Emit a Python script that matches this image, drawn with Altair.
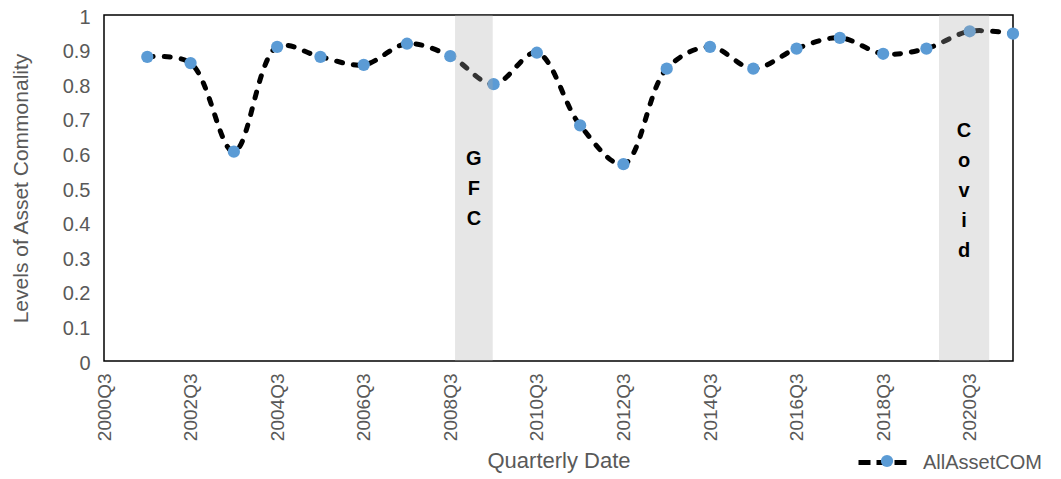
import altair as alt
import pandas as pd

# ---- data ----
quarters = ["2001Q3", "2002Q3", "2003Q3", "2004Q3", "2005Q3", "2006Q3", "2007Q3",
            "2008Q3", "2009Q3", "2010Q3", "2011Q3", "2012Q3", "2013Q3", "2014Q3",
            "2015Q3", "2016Q3", "2017Q3", "2018Q3", "2019Q3", "2020Q3", "2021Q3"]
values = [0.879, 0.861, 0.605, 0.908, 0.879, 0.856, 0.917,
          0.881, 0.800, 0.891, 0.681, 0.569, 0.845, 0.908,
          0.845, 0.903, 0.934, 0.888, 0.903, 0.953, 0.946]
tick_quarters = ["2000Q3", "2002Q3", "2004Q3", "2006Q3", "2008Q3", "2010Q3",
                 "2012Q3", "2014Q3", "2016Q3", "2018Q3", "2020Q3"]
y_ticks = [0, 0.1, 0.2, 0.3, 0.4, 0.5, 0.6, 0.7, 0.8, 0.9, 1]
event_names = ["G\nF\nC", "C\no\nv\ni\nd"]
event_start = [2008.61, 2019.79]
event_end = [2009.48, 2020.95]
event_label_top = [0.612, 0.694]
series_name = "AllAssetCOM"


def q_to_num(q):
    return int(q[:4]) + (int(q[-1]) - 1) / 4.0


df = pd.DataFrame({"t": [q_to_num(q) for q in quarters], "v": values,
                   "series": series_name, "series2": series_name})
ev = pd.DataFrame({"name": event_names, "t": event_start, "t_end": event_end,
                   "v": event_label_top})
ev["t_mid"] = (ev["t"] + ev["t_end"]) / 2

tick_vals = [q_to_num(q) for q in tick_quarters]
FONT = "Liberation Sans"
GREY = "#595959"

xscale = alt.Scale(domain=[q_to_num("2000Q3"), q_to_num("2021Q3")], nice=False, zero=False)
yscale = alt.Scale(domain=[0, 1], nice=False)

xaxis = alt.Axis(values=tick_vals, labelExpr="floor(datum.value) + 'Q3'", labelAngle=270,
                 ticks=False, domain=False, grid=False, labelPadding=12, labelOverlap=False,
                 labelFontSize=19, labelColor=GREY, labelFont=FONT,
                 title="Quarterly Date", titleFontSize=22, titleColor=GREY,
                 titleFont=FONT, titleFontWeight="normal", titlePadding=10)
yaxis = alt.Axis(values=y_ticks, format="~g", ticks=False, domain=False,
                 grid=False, labelPadding=14, labelOverlap=False, labelFontSize=20,
                 labelColor=GREY, labelFont=FONT, labelOffset=2,
                 title="Levels of Asset Commonality", titleFontSize=21, titleColor=GREY,
                 titleFont=FONT, titleFontWeight="normal", titlePadding=31)

X = alt.X("t:Q", scale=xscale, axis=xaxis, title="Quarterly Date")
Y = alt.Y("v:Q", scale=yscale, axis=yaxis, title="Levels of Asset Commonality")

base = alt.Chart(df)

line = base.mark_line(interpolate="catmull-rom", strokeWidth=5, strokeDash=[6, 11],
                      strokeCap="round").encode(
    x=X, y=Y,
    stroke=alt.Stroke("series:N", scale=alt.Scale(range=["#000000"]),
                      legend=alt.Legend(title=None, orient="none", legendX=752, legendY=418,
                                        padding=0, symbolType="stroke", symbolSize=2916,
                                        symbolStrokeWidth=5, symbolDash=[12, 6],
                                        labelFontSize=20, labelColor=GREY, labelFont=FONT,
                                        labelOffset=8)),
)

points = base.mark_circle(size=150, opacity=1).encode(
    x=X, y=Y,
    fill=alt.Fill("series2:N", scale=alt.Scale(range=["#5B9BD5"]),
                  legend=alt.Legend(title=None, orient="none", legendX=752, legendY=436,
                                    padding=0, symbolType="circle", symbolSize=150,
                                    symbolOffset=21, symbolStrokeWidth=0,
                                    labelFontSize=20, labelExpr="''", labelFont=FONT)),
)

shade = alt.Chart(ev).mark_rect(color="#acacac", opacity=0.3).encode(
    x=X, x2="t_end:Q"
)

labels = alt.Chart(ev).mark_text(lineBreak="\n", lineHeight=30, fontSize=20,
                                 fontWeight="bold", font=FONT, baseline="top",
                                 align="center", color="#000000").encode(
    x=alt.X("t_mid:Q", scale=xscale, axis=xaxis, title="Quarterly Date"),
    y=Y, text="name:N"
)

chart = alt.layer(line, points, shade, labels).properties(
    width=909, height=346,
    background="white",
    autosize=alt.AutoSizeParams(type="none"),
    padding={"left": 96, "top": 7, "right": 40, "bottom": 114},
).configure_view(stroke="#000000", strokeWidth=1.5)

chart.save("out.html", embed_options={"renderer": "svg", "actions": False})
